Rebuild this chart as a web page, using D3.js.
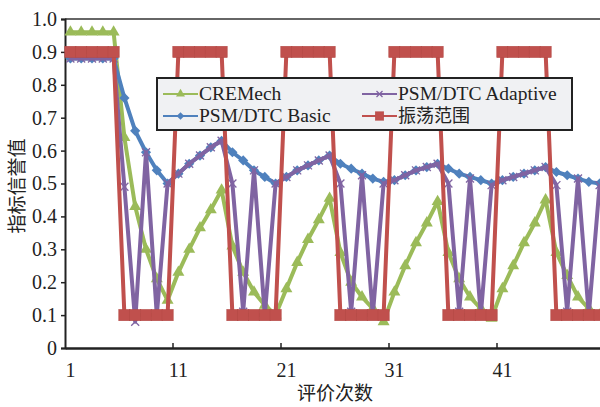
<!DOCTYPE html>
<html>

<head>
  <title>指标信誉值</title>
  <meta charset="utf-8">
  <script src="https://d3js.org/d3.v7.min.js"></script>
  <style>
    body { margin: 0; background: #fff; }
    svg { display: block; }
    .tick text { font-family: "Liberation Serif", serif; font-size: 20px; fill: #222; }
    .cn { font-family: "Noto Sans CJK SC", sans-serif; fill: #222; }
    .lg { font-family: "Liberation Serif", serif; font-size: 19.5px; fill: #222; }
  </style>
</head>

<body>
  <svg width="600" height="407"></svg>
  <script>
    // data
    var categories = d3.range(1, 51);
    var xTickLabels = [1, 11, 21, 31, 41];
    var yTicks = [0, 0.1, 0.2, 0.3, 0.4, 0.5, 0.6, 0.7, 0.8, 0.9, 1.0];

    var cremech = [0.96, 0.96, 0.96, 0.96, 0.96, 0.64, 0.43, 0.30, 0.21, 0.145,
      0.23, 0.30, 0.365, 0.42, 0.48, 0.31, 0.23, 0.17, 0.13, 0.10,
      0.18, 0.26, 0.33, 0.39, 0.455, 0.29, 0.20, 0.155, 0.12, 0.08,
      0.17, 0.25, 0.32, 0.38, 0.445, 0.29, 0.21, 0.155, 0.12, 0.09,
      0.18, 0.25, 0.32, 0.38, 0.45, 0.29, 0.22, 0.155, 0.12, 0.10];
    var basic = [0.88, 0.88, 0.88, 0.88, 0.88, 0.76, 0.66, 0.595, 0.54, 0.50,
      0.53, 0.56, 0.585, 0.61, 0.63, 0.595, 0.57, 0.54, 0.52, 0.50,
      0.52, 0.54, 0.555, 0.57, 0.585, 0.56, 0.545, 0.53, 0.515, 0.505,
      0.51, 0.525, 0.54, 0.55, 0.56, 0.545, 0.53, 0.52, 0.51, 0.50,
      0.51, 0.52, 0.53, 0.54, 0.55, 0.535, 0.525, 0.515, 0.505, 0.50];
    var adaptive = [0.88, 0.88, 0.88, 0.88, 0.88, 0.49, 0.08, 0.595, 0.10, 0.50,
      0.53, 0.56, 0.585, 0.61, 0.63, 0.50, 0.11, 0.54, 0.10, 0.50,
      0.52, 0.54, 0.555, 0.57, 0.585, 0.50, 0.11, 0.525, 0.10, 0.50,
      0.51, 0.525, 0.54, 0.55, 0.56, 0.50, 0.11, 0.515, 0.10, 0.495,
      0.51, 0.52, 0.53, 0.54, 0.55, 0.495, 0.11, 0.515, 0.10, 0.495];
    var oscillation = [0.9, 0.9, 0.9, 0.9, 0.9, 0.1, 0.1, 0.1, 0.1, 0.1,
      0.9, 0.9, 0.9, 0.9, 0.9, 0.1, 0.1, 0.1, 0.1, 0.1,
      0.9, 0.9, 0.9, 0.9, 0.9, 0.1, 0.1, 0.1, 0.1, 0.1,
      0.9, 0.9, 0.9, 0.9, 0.9, 0.1, 0.1, 0.1, 0.1, 0.1,
      0.9, 0.9, 0.9, 0.9, 0.9, 0.1, 0.1, 0.1, 0.1, 0.1];

    var series = [
      { name: "CREMech", values: cremech, color: "#9bbb59", marker: "triangle" },
      { name: "PSM/DTC Basic", values: basic, color: "#4f81bd", marker: "diamond" },
      { name: "PSM/DTC Adaptive", values: adaptive, color: "#8064a2", marker: "x" },
      { name: "振荡范围", values: oscillation, color: "#c0504d", marker: "square" }
    ];

    var svg = d3.select("svg");
    var plotLeft = 65, plotRight = 605, plotTop = 19, plotBottom = 348;

    var x = d3.scaleBand().domain(categories).range([plotLeft, plotRight]).padding(0);
    var y = d3.scaleLinear().domain([0, 1]).range([plotBottom, plotTop]);
    var cx = function(c) { return x(c) + x.bandwidth() / 2; };

    // frame
    svg.append("line").attr("x1", plotLeft).attr("x2", plotRight).attr("y1", plotTop).attr("y2", plotTop)
      .attr("stroke", "#333").attr("stroke-width", 1.5);

    var gy = svg.append("g").attr("transform", "translate(" + plotLeft + ",0)")
      .call(d3.axisLeft(y).tickValues(yTicks).tickSize(4).tickPadding(4)
        .tickFormat(function(d) { return d === 0 ? "0" : d3.format(".1f")(d); }));
    gy.select(".domain").attr("stroke", "#222").attr("stroke-width", 2);
    gy.selectAll(".tick line").attr("stroke", "#222").attr("stroke-width", 1.5);

    var gx = svg.append("g").attr("transform", "translate(0," + plotBottom + ")")
      .call(d3.axisBottom(x).tickValues(xTickLabels).tickSize(0).tickPadding(15));
    gx.select(".domain").attr("stroke", "#222").attr("stroke-width", 2.5);

    // tick marks between categories, every ten
    svg.append("g").selectAll("line")
      .data(xTickLabels.slice(1))
      .enter().append("line")
      .attr("x1", function(d) { return x(d); })
      .attr("x2", function(d) { return x(d); })
      .attr("y1", plotBottom).attr("y2", plotBottom - 5)
      .attr("stroke", "#222").attr("stroke-width", 1.5);

    svg.append("text").attr("class", "cn").attr("x", 335).attr("y", 400)
      .attr("text-anchor", "middle").style("font-size", "19px").text("评价次数");
    svg.append("text").attr("class", "cn")
      .attr("transform", "translate(24,186) rotate(-90)")
      .attr("text-anchor", "middle").style("font-size", "19px").text("指标信誉值");

    function drawMarker(sel, marker, color, s) {
      if (marker === "triangle") {
        sel.append("path").attr("d", d3.symbol(d3.symbolTriangle, 62 * s * s)())
          .attr("fill", color);
      } else if (marker === "diamond") {
        sel.append("path").attr("d", d3.symbol(d3.symbolSquare, 52 * s * s)())
          .attr("transform", "rotate(45)").attr("fill", color);
      } else if (marker === "x") {
        var r = 4 * s;
        sel.append("path").attr("d", "M" + -r + "," + -r + "L" + r + "," + r + "M" + -r + "," + r + "L" + r + "," + -r)
          .attr("stroke", color).attr("stroke-width", 1.3).attr("fill", "none");
      } else {
        var h = 5.6 * s;
        sel.append("rect").attr("x", -h).attr("y", -h).attr("width", 2 * h).attr("height", 2 * h)
          .attr("fill", color).attr("stroke", "#b54a47").attr("stroke-width", 0.6);
      }
    }

    var line = d3.line()
      .x(function(d, i) { return cx(categories[i]); })
      .y(function(d) { return y(d); });

    var plot = svg.append("g");
    series.forEach(function(s) {
      var g = plot.append("g");
      g.append("path").datum(s.values).attr("d", line)
        .attr("fill", "none").attr("stroke", s.color).attr("stroke-width", 4)
        .attr("stroke-linejoin", "round");
      g.selectAll("g.m").data(s.values).enter().append("g").attr("class", "m")
        .attr("transform", function(d, i) { return "translate(" + cx(categories[i]) + "," + y(d) + ")"; })
        .each(function() { drawMarker(d3.select(this), s.marker, s.color, 1); });
    });

    // legend
    var legend = svg.append("g");
    legend.append("rect").attr("x", 157).attr("y", 78).attr("width", 415).attr("height", 52)
      .attr("fill", "#f0f1f3").attr("stroke", "#222").attr("stroke-width", 2);
    var legendOrder = [series[0], series[2], series[1], series[3]];
    legendOrder.forEach(function(s, k) {
      var lx = k % 2 === 0 ? 163 : 362;
      var ly = k < 2 ? 94 : 116;
      var item = legend.append("g").attr("transform", "translate(" + lx + "," + ly + ")");
      item.append("line").attr("x1", 0).attr("x2", 35).attr("stroke", s.color).attr("stroke-width", 2);
      drawMarker(item.append("g").attr("transform", "translate(17.5,0)"), s.marker, s.color, 0.75);
      var cn = s.name === "振荡范围";
      item.append("text").attr("class", cn ? "cn" : "lg")
        .attr("x", 36).attr("y", 6).style("font-size", cn ? "18px" : null).text(s.name);
    });
  </script>
</body>

</html>
